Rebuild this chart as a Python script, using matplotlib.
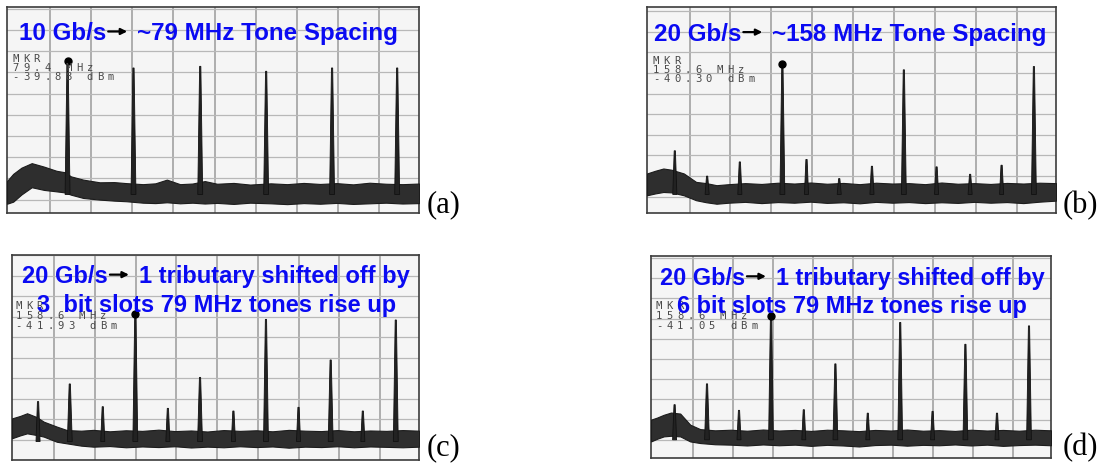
import numpy as np
import matplotlib
matplotlib.use("Agg")
import matplotlib.pyplot as plt
from matplotlib.text import OffsetFrom

# ---------------- data (x in screen divisions from left edge, y in tenths of screen height) -------------
# Panel (a): 10 Gb/s -> ~79 MHz tones
a_peak_x = [1.47, 3.07, 4.69, 6.29, 7.89, 9.47]
a_peak_top = [7.36, 7.04, 7.12, 6.88, 7.04, 7.04]
a_env_x = [0.0, 0.15, 0.35, 0.6, 0.9, 1.2, 1.4, 1.55, 1.85, 2.25, 2.6, 2.9, 3.3, 3.6, 3.88, 4.2, 4.5,
           4.8, 5.1, 5.5, 5.9, 6.4, 6.8, 7.2, 7.6, 8.0, 8.4, 8.8, 9.2, 9.6, 10.0]
a_env_up = [1.55, 1.9, 2.2, 2.42, 2.25, 2.05, 1.98, 1.78, 1.62, 1.49, 1.50, 1.45, 1.40, 1.44, 1.62, 1.40, 1.43,
            1.55, 1.42, 1.46, 1.38, 1.44, 1.40, 1.46, 1.41, 1.45, 1.39, 1.47, 1.42, 1.40, 1.43]
a_env_lo = [0.45, 0.55, 0.9, 1.25, 1.12, 1.05, 1.0, 0.89, 0.73, 0.65, 0.60, 0.57, 0.50, 0.48, 0.52, 0.47, 0.50,
            0.46, 0.49, 0.44, 0.50, 0.47, 0.43, 0.48, 0.45, 0.49, 0.44, 0.47, 0.50, 0.46, 0.48]
a_marker = 0
a_mkr = ["MKR", "79.4 MHz", "-39.88 dBm"]

# Panel (b): 20 Gb/s -> ~158 MHz tones
b_peak_x = [0.68, 1.47, 2.27, 3.31, 3.90, 4.70, 5.50, 6.28, 7.08, 7.90, 8.67, 9.46]
b_peak_top = [3.02, 1.79, 2.48, 7.24, 2.60, 1.67, 2.27, 6.95, 2.24, 1.88, 2.32, 7.11]
b_env_x = [0.0, 0.2, 0.4, 0.6, 0.9, 1.2, 1.45, 1.7, 2.0, 2.4, 2.8, 3.2, 3.6, 4.0, 4.4, 4.8, 5.2,
           5.6, 6.0, 6.4, 6.8, 7.2, 7.6, 8.0, 8.4, 8.8, 9.2, 9.6, 10.0]
b_env_up = [1.92, 2.05, 2.16, 2.1, 1.92, 1.51, 1.45, 1.35, 1.40, 1.45, 1.41, 1.47, 1.43, 1.48, 1.42, 1.46, 1.40,
            1.47, 1.43, 1.45, 1.40, 1.48, 1.42, 1.45, 1.41, 1.46, 1.43, 1.47, 1.45]
b_env_lo = [0.86, 0.95, 1.02, 1.0, 0.86, 0.62, 0.52, 0.45, 0.50, 0.54, 0.48, 0.53, 0.50, 0.55, 0.49, 0.52, 0.47,
            0.54, 0.50, 0.53, 0.48, 0.52, 0.49, 0.54, 0.50, 0.53, 0.48, 0.55, 0.60]
b_marker = 3
b_mkr = ["MKR", "158.6 MHz", "-40.30 dBm"]

# Panel (c): 20 Gb/s, one tributary shifted by 3 bit slots
c_peak_x = [0.64, 1.42, 2.23, 3.03, 3.83, 4.62, 5.44, 6.24, 7.04, 7.83, 8.62, 9.43]
c_peak_top = [2.85, 3.71, 2.60, 7.12, 2.52, 4.03, 2.39, 6.86, 2.57, 4.88, 2.39, 6.83]
c_env_x = [0.0, 0.2, 0.37, 0.6, 0.78, 1.1, 1.35, 1.7, 2.0, 2.4, 2.8, 3.2, 3.6, 4.0, 4.4, 4.8, 5.2,
           5.6, 6.0, 6.4, 6.8, 7.2, 7.6, 8.0, 8.4, 8.8, 9.2, 9.6, 10.0]
c_env_up = [2.03, 2.15, 2.28, 2.1, 1.87, 1.63, 1.46, 1.43, 1.47, 1.40, 1.45, 1.42, 1.48, 1.41, 1.44, 1.39, 1.46,
            1.42, 1.45, 1.40, 1.47, 1.43, 1.41, 1.46, 1.40, 1.44, 1.42, 1.46, 1.43]
c_env_lo = [1.06, 1.2, 1.30, 1.22, 1.14, 0.89, 0.81, 0.70, 0.65, 0.68, 0.62, 0.66, 0.63, 0.67, 0.61, 0.65, 0.62,
            0.67, 0.63, 0.66, 0.60, 0.65, 0.63, 0.67, 0.62, 0.66, 0.64, 0.62, 0.65]
c_marker = 3
c_mkr = ["MKR", "158.6 MHz", "-41.93 dBm"]

# Panel (d): 20 Gb/s, one tributary shifted by 6 bit slots
d_peak_x = [0.59, 1.40, 2.20, 3.00, 3.82, 4.61, 5.42, 6.23, 7.04, 7.86, 8.65, 9.45]
d_peak_top = [2.64, 3.67, 2.36, 7.03, 2.39, 4.66, 2.22, 6.71, 2.31, 5.63, 2.22, 6.54]
d_env_x = [0.0, 0.15, 0.32, 0.5, 0.73, 0.98, 1.23, 1.6, 2.0, 2.4, 2.8, 3.2, 3.6, 4.0, 4.4, 4.8, 5.2,
           5.6, 6.0, 6.4, 6.8, 7.2, 7.6, 8.0, 8.4, 8.8, 9.2, 9.6, 10.0]
d_env_up = [1.90, 2.0, 2.14, 2.25, 2.2, 1.65, 1.43, 1.37, 1.40, 1.35, 1.41, 1.36, 1.39, 1.34, 1.40, 1.37, 1.33,
            1.39, 1.36, 1.41, 1.35, 1.38, 1.34, 1.40, 1.36, 1.39, 1.35, 1.40, 1.37]
d_env_lo = [0.82, 0.95, 1.07, 1.1, 1.07, 0.82, 0.74, 0.68, 0.66, 0.62, 0.67, 0.63, 0.66, 0.60, 0.65, 0.62, 0.57,
            0.64, 0.66, 0.61, 0.65, 0.63, 0.67, 0.62, 0.66, 0.60, 0.64, 0.66, 0.63]
d_marker = 3
d_mkr = ["MKR", "158.6 MHz", "-41.05 dBm"]

titles_a = ("10 Gb/s", "~79 MHz Tone Spacing", None)
titles_b = ("20 Gb/s", "~158 MHz Tone Spacing", None)
titles_c = ("20 Gb/s", "1 tributary shifted off by", "3  bit slots 79 MHz tones rise up")
titles_d = ("20 Gb/s", "1 tributary shifted off by", "6 bit slots 79 MHz tones rise up")
panel_labels = ["(a)", "(b)", "(c)", "(d)"]

# ---------------- drawing ----------------
BLUE = "#0a0af2"

fig = plt.figure(figsize=(11.02, 4.63), dpi=100)
fig.patch.set_facecolor("white")


def tfont(size):
    return dict(fontsize=size, fontweight="bold", color=BLUE, family="Liberation Sans", zorder=10)


def draw_panel(rect, env_x, env_up, env_lo, pk_x, pk_top, mk, hoff, hstep):
    ax = fig.add_axes(rect)
    ax.set_xlim(0, 10)
    ax.set_ylim(0, 10)
    ax.set_facecolor("#f5f5f5")
    for gx in np.arange(1, 10) + 0.04:
        ax.axvline(gx, color="#9a9a9a", lw=1.1, zorder=1)
    for gy in np.arange(hoff, 10, hstep):
        ax.axhline(gy, color="#b8b8b8", lw=0.9, zorder=1)
    ax.fill_between(env_x, env_lo, env_up, facecolor="#2e2e2e", edgecolor="#1c1c1c", lw=0.8, zorder=3)
    for x, top in zip(pk_x, pk_top):
        hw = 0.06 if top > 3.3 else 0.05
        ax.fill([x - hw, x - 0.015, x + 0.015, x + hw], [0.9, top, top, 0.9],
                facecolor="#222222", edgecolor="#111111", lw=0.6, zorder=4)
    ax.plot([pk_x[mk]], [pk_top[mk]], "o", color="black", ms=5, zorder=5)
    ax.set_xticks([])
    ax.set_yticks([])
    for s in ax.spines.values():
        s.set_color("#3c3c3c")
        s.set_linewidth(1.2)
    return ax


def draw_mkr(ax, lines, x0, tops):
    wpx = ax.get_window_extent().width
    pitch = 10.6 / wpx
    for line, yt in zip(lines, tops):
        for i, ch in enumerate(line):
            ax.text(x0 + i * pitch, yt, ch, transform=ax.transAxes, ha="left", va="top",
                    fontsize=7.6, family="DejaVu Sans Mono", color="#4a4a4a", zorder=6)


def draw_title(ax, t, x, y1, y2, size):
    f = tfont(size)
    t1 = ax.text(x, y1, t[0], transform=ax.transAxes, ha="left", va="center", **f)
    ax.annotate("", xy=(21, 0), xycoords=OffsetFrom(t1, (1, 0.6), "pixels"),
                xytext=(2, 0), textcoords=OffsetFrom(t1, (1, 0.6), "pixels"),
                arrowprops=dict(arrowstyle="-|>", color="black", lw=1.6, mutation_scale=9,
                                shrinkA=0, shrinkB=0), zorder=10)
    ax.annotate(t[1], xy=(1, 0.5), xycoords=t1, xytext=(31, 0), textcoords="offset pixels",
                ha="left", va="center", **f)
    if t[2] is not None:
        ax.text(0.502, y2, t[2], transform=ax.transAxes, ha="center", va="center", **f)


ax_a = draw_panel([7 / 1102, 250 / 463, 412 / 1102, 206 / 463], a_env_x, a_env_up, a_env_lo,
                  a_peak_x, a_peak_top, a_marker, 0.65, 1.03)
ax_b = draw_panel([647 / 1102, 250 / 463, 409 / 1102, 206 / 463], b_env_x, b_env_up, b_env_lo,
                  b_peak_x, b_peak_top, b_marker, 0.8, 1.0)
ax_c = draw_panel([12 / 1102, 3 / 463, 407 / 1102, 205 / 463], c_env_x, c_env_up, c_env_lo,
                  c_peak_x, c_peak_top, c_marker, 0.98, 1.0)
ax_d = draw_panel([651 / 1102, 5 / 463, 400 / 1102, 202 / 463], d_env_x, d_env_up, d_env_lo,
                  d_peak_x, d_peak_top, d_marker, 0.9, 1.0)

draw_mkr(ax_a, a_mkr, 0.013, [0.772, 0.728, 0.683])
draw_mkr(ax_b, b_mkr, 0.014, [0.762, 0.718, 0.675])
draw_mkr(ax_c, c_mkr, 0.008, [0.776, 0.726, 0.676])
draw_mkr(ax_d, d_mkr, 0.012, [0.777, 0.726, 0.676])

draw_title(ax_a, titles_a, 0.029, 0.870, None, 17.4)
draw_title(ax_b, titles_b, 0.017, 0.867, None, 17.4)
draw_title(ax_c, titles_c, 0.025, 0.893, 0.754, 17.0)
draw_title(ax_d, titles_d, 0.022, 0.888, 0.748, 16.9)

LFONT = dict(fontsize=22, family="Liberation Serif", color="black", va="center", ha="left")
fig.text(427 / 1102, 0.557, panel_labels[0], **LFONT)
fig.text(1063 / 1102, 0.557, panel_labels[1], **LFONT)
fig.text(427 / 1102, 0.034, panel_labels[2], **LFONT)
fig.text(1063 / 1102, 0.034, panel_labels[3], **LFONT)

fig.savefig("out.png", dpi=100)
